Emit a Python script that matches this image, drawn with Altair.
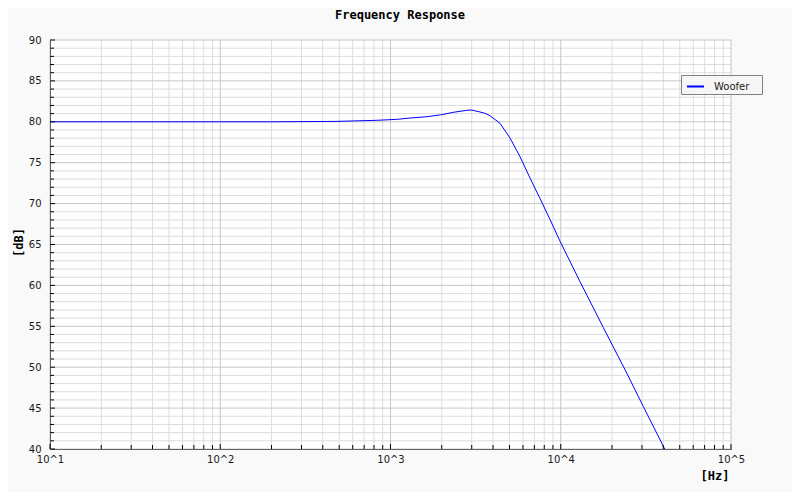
import altair as alt
import pandas as pd

# ---- data ----
freq_hz = [10, 50, 100, 200, 479, 830, 1087, 1303, 1632, 2000, 2339, 2803, 2972,
           3356, 3589, 3839, 4397, 5035, 5765, 6600, 7556, 8650, 9905, 12980,
           17780, 23840, 30540, 40800]
level_db = [80.0, 80.0, 80.0, 80.0, 80.05, 80.18, 80.3, 80.46, 80.62, 80.87, 81.16, 81.40, 81.45,
            81.2, 81.04, 80.75, 79.82, 78.02, 75.73, 73.13, 70.62, 68.05, 65.4, 60.45,
            54.85, 49.7, 45.2, 40.0]
series_name = "Woofer"

x_major = [10, 100, 1000, 10000, 100000]
x_minor = [m * d for d in [10, 100, 1000, 10000] for m in range(2, 10)]
y_major = list(range(40, 91, 5))
y_minor = [v for v in range(40, 91) if v % 5]

chart_title = "Frequency Response"
x_title = "[Hz]"
y_title = "[dB]"

W, H = 681, 409
MAJOR_GRID = "#c6c6c6"
MINOR_GRID = "#dddddd"
LEGEND_FILL = "#f6f6f6"

xs = alt.Scale(type="log", domain=[10, 100000], nice=False)
ys = alt.Scale(domain=[40, 90], nice=False, zero=False)

common_lbl = dict(labelFont="DejaVu Sans", labelFontSize=10, labelColor="#1a1a1a",
                  grid=False, ticks=False, domain=True, domainColor="black",
                  domainWidth=1, title=None, labelFlush=False, labelOverlap=False)
x_axis = alt.Axis(values=x_major, labelExpr="'10^' + round(log(datum.value)/LN10)",
                  labelPadding=5, **common_lbl)
y_axis = alt.Axis(values=y_major, labelPadding=9, **common_lbl)

X = lambda: alt.X("f:Q", scale=xs, axis=x_axis)
Y = lambda: alt.Y("db:Q", scale=ys, axis=y_axis)

df_xminor = pd.DataFrame({"f": x_minor})
df_xmajor = pd.DataFrame({"f": x_major})
df_yminor = pd.DataFrame({"db": y_minor})
df_ymajor = pd.DataFrame({"db": y_major})

v_minor = alt.Chart(df_xminor).mark_rule(color=MINOR_GRID, strokeWidth=1).encode(
    x=X(), y=alt.value(0), y2=alt.value(H))
v_major = alt.Chart(df_xmajor).mark_rule(color=MAJOR_GRID, strokeWidth=1).encode(
    x=X(), y=alt.value(0), y2=alt.value(H))
h_minor = alt.Chart(df_yminor).mark_rule(color=MINOR_GRID, strokeWidth=1).encode(
    y=Y(), x=alt.value(0), x2=alt.value(W))
h_major = alt.Chart(df_ymajor).mark_rule(color=MAJOR_GRID, strokeWidth=1).encode(
    y=Y(), x=alt.value(0), x2=alt.value(W))

xt_minor = alt.Chart(df_xminor).mark_rule(color="black", strokeWidth=1).encode(
    x=X(), y=alt.value(H), y2=alt.value(H - 4))
xt_major = alt.Chart(df_xmajor).mark_rule(color="black", strokeWidth=1).encode(
    x=X(), y=alt.value(H), y2=alt.value(H - 5))
yt_minor = alt.Chart(df_yminor).mark_rule(color="black", strokeWidth=1).encode(
    y=Y(), x=alt.value(0), x2=alt.value(4))
yt_major = alt.Chart(df_ymajor).mark_rule(color="black", strokeWidth=1).encode(
    y=Y(), x=alt.value(0), x2=alt.value(5))

df = pd.DataFrame({"f": freq_hz, "db": level_db, "s": series_name})
line = alt.Chart(df).mark_line(strokeWidth=1, clip=True).encode(
    x=X(), y=Y(),
    color=alt.Color("s:N", scale=alt.Scale(domain=[series_name], range=["#0000ff"]),
                    legend=alt.Legend(orient="none", legendX=631, legendY=35,
                                      title=".", titleOrient="right", titleFontSize=4,
                                      titleColor=LEGEND_FILL, titlePadding=9,
                                      symbolType="stroke", symbolStrokeWidth=2, symbolSize=289,
                                      labelFont="DejaVu Sans", labelFontSize=10,
                                      labelColor="#1a1a1a",
                                      fillColor=LEGEND_FILL, strokeColor="#808080",
                                      padding=2, symbolOffset=3, labelOffset=9)))

one = pd.DataFrame({"t": [chart_title], "xt": [x_title], "yt": [y_title]})
txt_title = alt.Chart(one).mark_text(font="DejaVu Sans Mono", fontWeight="bold", fontSize=12,
                                     align="center", baseline="middle", color="black").encode(
    text="t:N", x=alt.value(350), y=alt.value(-25))
txt_x = alt.Chart(one).mark_text(font="DejaVu Sans Mono", fontWeight="bold", fontSize=12,
                                 align="center", baseline="middle", color="black").encode(
    text="xt:N", x=alt.value(665), y=alt.value(436))
txt_y = alt.Chart(one).mark_text(font="DejaVu Sans Mono", fontWeight="bold", fontSize=12,
                                 align="center", baseline="middle", color="black", angle=270).encode(
    text="yt:N", x=alt.value(-31), y=alt.value(202.5))

chart = alt.layer(v_minor, h_minor, v_major, h_major, line,
                  xt_minor, xt_major, yt_minor, yt_major,
                  txt_title, txt_x, txt_y).properties(
    width=W, height=H,
    autosize="none",
    padding={"left": 42, "top": 32, "right": 61, "bottom": 43},
    background="#f9f9f9",
).configure_view(fill="white", strokeWidth=0)

chart.save("out.html", embed_options={"renderer": "svg", "actions": False})
